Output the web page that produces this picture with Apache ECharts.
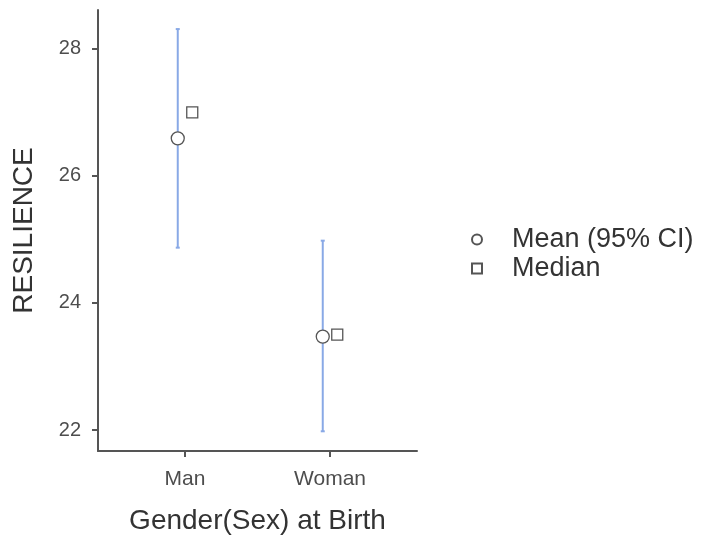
<!DOCTYPE html>
<html>
<head>
<meta charset="utf-8">
<script src="https://cdn.jsdelivr.net/npm/echarts@6/dist/echarts.min.js"></script>
<style>
html, body { margin: 0; padding: 0; background: #fff; }
#main { width: 706px; height: 542px; }
</style>
</head>
<body>
<div id="main"></div>
<script type="text/javascript">
// 数据
var categories = ['Man', 'Woman'];
var meanValues = [26.59, 23.47];
var ciLower = [24.87, 21.98];
var ciUpper = [28.31, 24.98];
var medianValues = [27.0, 23.5];
var yTicks = [22, 24, 26, 28];

var dodge = 0.05;

var myChart = echarts.init(document.getElementById('main'));

var meanData = [], medianData = [], barData = [];
for (var i = 0; i < categories.length; i++) {
	meanData.push([i + 1 - dodge, meanValues[i]]);
	medianData.push([i + 1 + dodge, medianValues[i]]);
	barData.push([i + 1 - dodge, ciLower[i], ciUpper[i]]);
}

var font = 'Liberation Sans, Arial, sans-serif';

var option = {
	animation: false,
	textStyle: { fontFamily: font },
	grid: { left: 98, right: 289, top: 10, bottom: 91, containLabel: false },
	legend: {
		orient: 'vertical',
		left: 466,
		top: 221,
		itemWidth: 10,
		itemHeight: 10,
		itemGap: 2,
		textStyle: { fontSize: 27, color: '#333', fontFamily: font, padding: [0, 0, 0, 25] },
		data: ['Mean (95% CI)', 'Median']
	},
	xAxis: {
		type: 'value',
		min: 0.4,
		max: 2.6,
		interval: 1,
		name: 'Gender(Sex) at Birth',
		nameLocation: 'middle',
		nameGap: 56,
		nameTextStyle: { fontSize: 28, color: '#333' },
		splitLine: { show: false },
		axisLine: { show: true, lineStyle: { color: '#555', width: 2 } },
		axisTick: { show: true, length: 6, lineStyle: { color: '#555', width: 2 }, customValues: [1, 2] },
		axisLabel: {
			fontSize: 21, color: '#4d4d4d', margin: 18,
			customValues: [1, 2],
			formatter: function (v) { return categories[Math.round(v) - 1] || ''; }
		}
	},
	yAxis: {
		type: 'value',
		min: 21.67,
		max: 28.61,
		name: 'RESILIENCE',
		nameLocation: 'middle',
		nameGap: 60,
		nameTextStyle: { fontSize: 28, color: '#333' },
		splitLine: { show: false },
		axisLine: { show: true, lineStyle: { color: '#555', width: 2 } },
		axisTick: { show: true, length: 6, lineStyle: { color: '#555', width: 2 }, customValues: yTicks },
		axisLabel: { fontSize: 20, color: '#4d4d4d', margin: 17, customValues: yTicks }
	},
	series: [
		{
			name: 'CI',
			type: 'custom',
			data: barData,
			renderItem: function (params, api) {
				var x = api.value(0);
				var lo = api.coord([x, api.value(1)]);
				var hi = api.coord([x, api.value(2)]);
				var c = 2;
				var style = { stroke: '#89a9e6', lineWidth: 2 };
				return {
					type: 'group',
					children: [
						{ type: 'line', shape: { x1: lo[0], y1: lo[1], x2: hi[0], y2: hi[1] }, style: style },
						{ type: 'line', shape: { x1: lo[0] - c, y1: lo[1], x2: lo[0] + c, y2: lo[1] }, style: style },
						{ type: 'line', shape: { x1: hi[0] - c, y1: hi[1], x2: hi[0] + c, y2: hi[1] }, style: style }
					]
				};
			},
			z: 1
		},
		{
			name: 'Mean (95% CI)',
			type: 'scatter',
			symbol: 'circle',
			symbolSize: 13,
			data: meanData,
			itemStyle: { color: '#fff', borderColor: '#555', borderWidth: 1.3, opacity: 1 },
			z: 3
		},
		{
			name: 'Median',
			type: 'scatter',
			symbol: 'rect',
			symbolSize: 11,
			data: medianData,
			itemStyle: { color: '#fff', borderColor: '#555', borderWidth: 1.3, opacity: 1 },
			z: 3
		}
	]
};

myChart.setOption(option);
</script>
</body>
</html>
